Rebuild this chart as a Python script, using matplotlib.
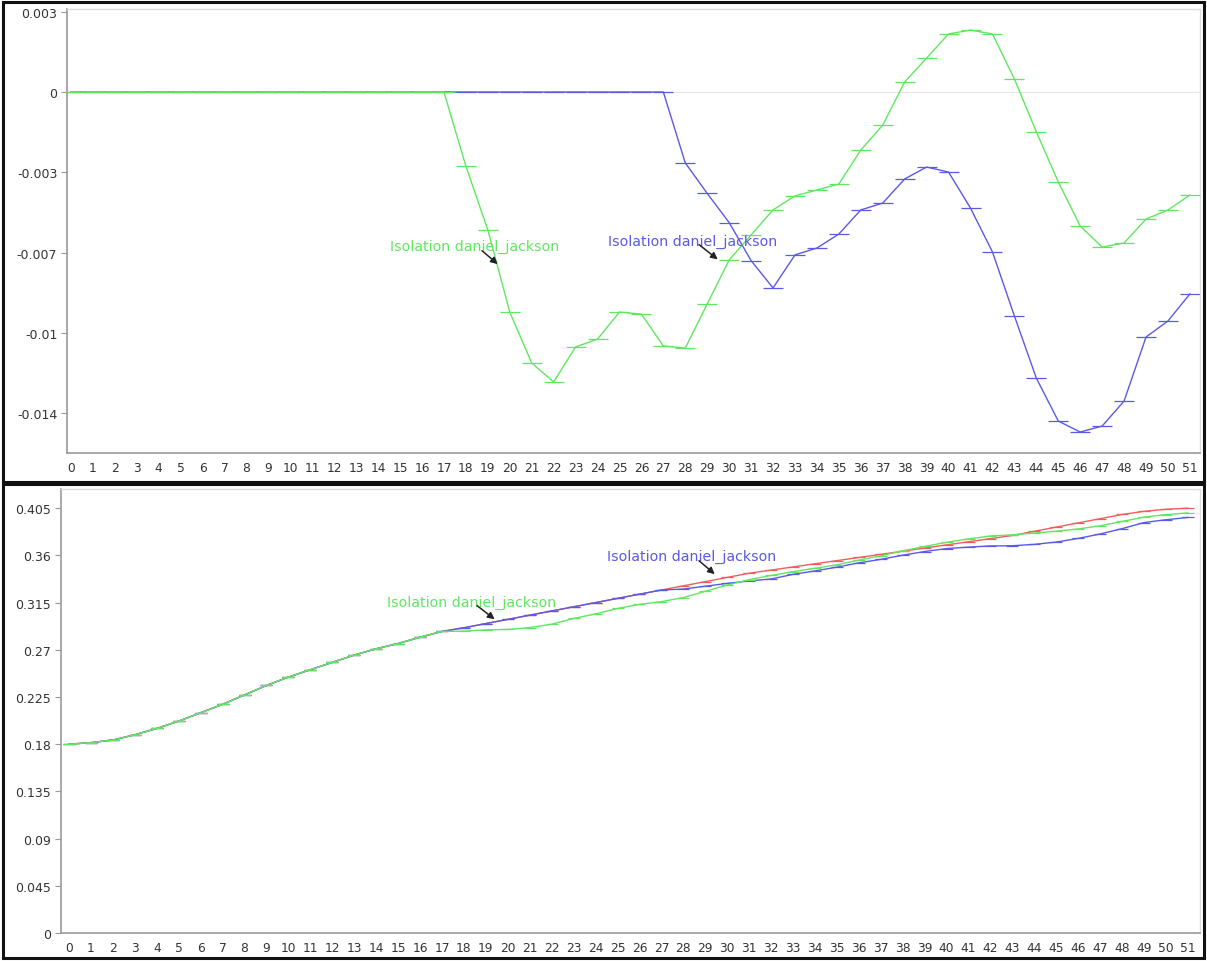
import matplotlib.pyplot as plt
from matplotlib.patches import Rectangle
import numpy as np

# Categories (time steps)
steps = list(range(52))

# Top panel: difference to baseline
diff_green = [0, 0, 0, 0, 0, 0, 0, 0, 0, 0, 0, 0, 0, 0, 0, 0, 0, 0,
              -0.00323, -0.00601, -0.00959, -0.01181, -0.01264, -0.01111, -0.01077,
              -0.00959, -0.00968, -0.01107, -0.01116, -0.00924, -0.00732, -0.00623,
              -0.00514, -0.00453, -0.00427, -0.00401, -0.00253, -0.00144, 0.00044,
              0.00148, 0.00253, 0.00270, 0.00253, 0.00057, -0.00174, -0.00392,
              -0.00584, -0.00676, -0.00658, -0.00554, -0.00514, -0.00449]
diff_blue = [0, 0, 0, 0, 0, 0, 0, 0, 0, 0, 0, 0, 0, 0, 0, 0, 0, 0,
             0, 0, 0, 0, 0, 0, 0, 0, 0, 0,
             -0.00309, -0.00442, -0.00569, -0.00735, -0.00854, -0.00710, -0.00680,
             -0.00619, -0.00514, -0.00484, -0.00379, -0.00327, -0.00349, -0.00506,
             -0.00697, -0.00976, -0.01247, -0.01434, -0.01482, -0.01456, -0.01347,
             -0.01068, -0.00998, -0.00880]

# Bottom panel: cumulative values
base_red = [0.180, 0.1815, 0.184, 0.189, 0.195, 0.202, 0.210, 0.218, 0.227, 0.236,
            0.244, 0.251, 0.258, 0.265, 0.271, 0.276, 0.282, 0.2875, 0.291, 0.295,
            0.299, 0.303, 0.307, 0.311, 0.315, 0.319, 0.323, 0.327, 0.331, 0.335,
            0.339, 0.343, 0.346, 0.349, 0.352, 0.355, 0.358, 0.361, 0.364, 0.367,
            0.370, 0.373, 0.376, 0.379, 0.383, 0.387, 0.391, 0.395, 0.399, 0.402,
            0.404, 0.405]
cum_blue = [0.180, 0.1815, 0.184, 0.189, 0.195, 0.202, 0.210, 0.218, 0.227, 0.236,
            0.244, 0.251, 0.258, 0.265, 0.271, 0.276, 0.282, 0.2875, 0.291, 0.295,
            0.299, 0.303, 0.307, 0.311, 0.315, 0.319, 0.323, 0.327, 0.3279, 0.3306,
            0.3333, 0.3357, 0.3375, 0.3419, 0.3452, 0.3488, 0.3529, 0.3562, 0.3602,
            0.3637, 0.3665, 0.3679, 0.3690, 0.3692, 0.3705, 0.3727, 0.3762, 0.3804,
            0.3855, 0.3913, 0.3940, 0.3962]
cum_green = [0.180, 0.1815, 0.184, 0.189, 0.195, 0.202, 0.210, 0.218, 0.227, 0.236,
             0.244, 0.251, 0.258, 0.265, 0.271, 0.276, 0.282, 0.2875, 0.2878, 0.2890,
             0.2894, 0.2912, 0.2944, 0.2999, 0.3042, 0.3094, 0.3133, 0.3159, 0.3198,
             0.3258, 0.3317, 0.3368, 0.3409, 0.3445, 0.3477, 0.3510, 0.3555, 0.3596,
             0.3644, 0.3685, 0.3725, 0.3757, 0.3785, 0.3796, 0.3813, 0.3831, 0.3852,
             0.3882, 0.3924, 0.3965, 0.3989, 0.4005]

top_ticks = [0.0035, 0, -0.0035, -0.007, -0.0105, -0.014]
top_labels = ['0.003', '0', '-0.003', '-0.007', '-0.01', '-0.014']
bot_ticks = [0, 0.045, 0.09, 0.135, 0.18, 0.225, 0.27, 0.315, 0.36, 0.405]
bot_labels = ['0', '0.045', '0.09', '0.135', '0.18', '0.225', '0.27', '0.315', '0.36', '0.405']

label = 'Isolation daniel_jackson'
RED, BLUE, GREEN = '#f25c5c', '#5a5ae6', '#5fe85f'

W, H = 1207, 962
fig = plt.figure(figsize=(W / 100, H / 100), dpi=100)


def rect(l, t, r, b):
    return [l / W, 1 - b / H, (r - l) / W, (b - t) / H]


def style(ax, ticks, labels):
    ax.set_xticks(steps)
    ax.set_xticklabels([str(s) for s in steps], fontsize=8.8, color='#333333')
    ax.tick_params(axis='x', length=0, pad=6)
    ax.set_yticks(ticks)
    ax.set_yticklabels(labels, fontsize=9, color='#333333')
    ax.tick_params(axis='y', length=4, width=0.8, color='#999999', pad=3)
    for s in ['left', 'bottom']:
        ax.spines[s].set_color('#999999')
        ax.spines[s].set_linewidth(1.2)
    for s in ['top', 'right']:
        ax.spines[s].set_color('#dddddd')
        ax.spines[s].set_linewidth(1.0)


mk = dict(marker='_', markersize=14, markeredgewidth=0.9, linewidth=1.0)
mk_small = dict(marker='_', markersize=9, markeredgewidth=0.9, linewidth=1.0)
arrow = dict(arrowstyle='-|>', color='#222222', lw=1.1, mutation_scale=10)

# ---- top panel
ax1 = fig.add_axes(rect(67, 10, 1200, 454))
ax1.axhline(0, color='#e6e6e6', linewidth=0.8, zorder=1)
ax1.plot(steps, diff_blue, color=BLUE, zorder=2, **mk)
ax1.plot(steps, diff_green, color=GREEN, zorder=3, **mk)
ax1.set_xlim(-0.18, 51.46)
ax1.set_ylim(-0.015734, 0.003618)
style(ax1, top_ticks, top_labels)

ax1.text(14.54, -0.00671, label, color=GREEN, fontsize=10.2, va='center', ha='left')
ax1.annotate('', xy=(19.55, -0.00758), xytext=(18.64, -0.00684), arrowprops=arrow)
ax1.text(24.48, -0.00649, label, color=BLUE, fontsize=10.2, va='center', ha='left')
ax1.annotate('', xy=(29.58, -0.00737), xytext=(28.53, -0.00658), arrowprops=arrow)

# ---- bottom panel
ax2 = fig.add_axes(rect(61, 490, 1200, 934))
ax2.plot(steps, base_red, color=RED, zorder=2, **mk_small)
ax2.plot(steps, cum_blue, color=BLUE, zorder=3, **mk_small)
ax2.plot(steps, cum_green, color=GREEN, zorder=4, **mk_small)
ax2.set_xlim(-0.365, 51.55)
ax2.set_ylim(0, 0.4233)
style(ax2, bot_ticks, bot_labels)

ax2.text(14.49, 0.3156, label, color=GREEN, fontsize=10.2, va='center', ha='left')
ax2.annotate('', xy=(19.5, 0.2975), xytext=(18.5, 0.3137), arrowprops=arrow)
ax2.text(24.52, 0.3594, label, color=BLUE, fontsize=10.2, va='center', ha='left')
ax2.annotate('', xy=(29.53, 0.3404), xytext=(28.62, 0.3566), arrowprops=arrow)

# panel frames
for t, b in [(3, 483), (485, 959)]:
    fig.patches.append(Rectangle((3 / W, 1 - b / H), 1201 / W, (b - t) / H,
                                 transform=fig.transFigure, fill=False,
                                 edgecolor='#111111', linewidth=2.2))

plt.savefig('out.png', dpi=100)
